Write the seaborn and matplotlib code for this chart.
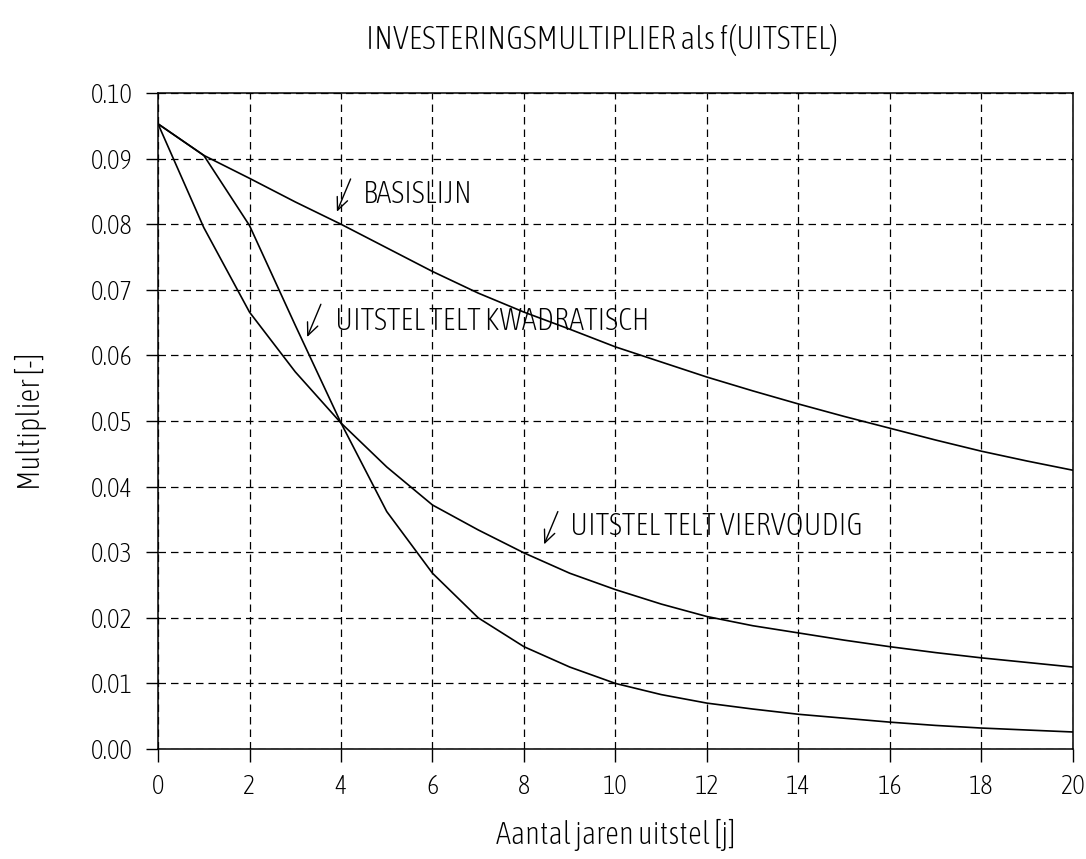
import numpy as np
import pandas as pd
import seaborn as sns
import matplotlib
matplotlib.use("Agg")
import matplotlib.pyplot as plt
from matplotlib import font_manager as fm

years = list(range(0, 21))
basislijn = [0.0953, 0.0905, 0.0870, 0.0834, 0.0800, 0.0764, 0.0728, 0.0695, 0.0666, 0.0640, 0.0613,
             0.0590, 0.0567, 0.0546, 0.0526, 0.0507, 0.0489, 0.0471, 0.0454, 0.0439, 0.0425]
kwadratisch = [0.0953, 0.0905, 0.0798, 0.0646, 0.0497, 0.0362, 0.0268, 0.0200, 0.0156, 0.0125, 0.0100,
               0.0083, 0.0070, 0.0061, 0.0053, 0.0047, 0.0041, 0.0036, 0.0032, 0.0029, 0.0026]
viervoudig = [0.0953, 0.0795, 0.0666, 0.0575, 0.0497, 0.0430, 0.0372, 0.0334, 0.0299, 0.0268, 0.0243,
              0.0221, 0.0202, 0.0188, 0.0177, 0.0166, 0.0156, 0.0147, 0.0139, 0.0132, 0.0125]

labels = ["BASISLIJN", "UITSTEL TELT KWADRATISCH", "UITSTEL TELT VIERVOUDIG"]
# arrow tip and text anchor, in data units
label_tips = [(3.91, 0.0819), (3.26, 0.0628), (8.44, 0.0312)]
label_text = [(4.48, 0.0845), (3.87, 0.0651), (9.0, 0.0340)]

x_ticks = list(range(0, 21, 2))
y_ticks = [0.00, 0.01, 0.02, 0.03, 0.04, 0.05, 0.06, 0.07, 0.08, 0.09, 0.10]


def pick_font():
    # the original uses a thin, narrow plotter font: look for something close
    best, best_score = None, -1
    for f in fm.fontManager.ttflist:
        n = (f.name + " " + str(f.stretch) + " " + f.fname).lower()
        score = 0
        if "narrow" in n or "condensed" in n:
            score += 10
        if "light" in n or str(f.weight) in ("300", "light", "200"):
            score += 3
        if "italic" in n or "oblique" in n or f.style != "normal" or "mono" in n or "serif" in f.name.lower():
            continue
        if "bold" in n or "black" in n or "semibold" in n or "medium" in n:
            continue
        if score > best_score:
            best, best_score = f, score
    return best


fnt = pick_font()
sns.set_style("white")
if fnt is not None:
    plt.rcParams['font.family'] = [fnt.name, 'DejaVu Sans']
    plt.rcParams['font.stretch'] = fnt.stretch
    plt.rcParams['font.weight'] = fnt.weight
    plt.rcParams['axes.labelweight'] = fnt.weight
    plt.rcParams['axes.titleweight'] = fnt.weight
    narrow = "narrow" in (fnt.name + fnt.fname).lower() or "condensed" in (fnt.name + fnt.fname + str(fnt.stretch)).lower()
else:
    plt.rcParams['font.family'] = ['DejaVu Sans']
    narrow = False
for k in ["text.color", "axes.labelcolor", "xtick.color", "ytick.color"]:
    plt.rcParams[k] = "black"

scale = 1.0 if narrow else 0.8

fig = plt.figure(figsize=(10.86, 8.59), dpi=100)
ax = fig.add_axes([0.1455, 0.128, 0.8425, 0.7637])

df = pd.DataFrame({"jaar": years, "basis": basislijn, "kwad": kwadratisch, "vier": viervoudig})
for col in ["basis", "kwad", "vier"]:
    sns.lineplot(data=df, x="jaar", y=col, ax=ax, color="black", linewidth=1.2)

ax.set_xlim(0, 20)
ax.set_ylim(0, 0.10)
ax.set_xticks(x_ticks)
ax.set_yticks(y_ticks)
ax.set_yticklabels([f"{v:.2f}" for v in y_ticks])
ax.tick_params(axis="both", direction="out", length=9, width=1, color="black",
               labelsize=19 * scale, pad=9, left=True, bottom=True)
ax.grid(True, color="black", linestyle=(0, (6, 4)), linewidth=0.9)
for s in ax.spines.values():
    s.set_color("black")
    s.set_linewidth(1.1)

ax.set_xlabel("Aantal jaren uitstel [j]", fontsize=22 * scale, labelpad=14)
ax.set_ylabel("Multiplier [-]", fontsize=22 * scale, labelpad=32)
fig.text(602 / 1086, 1 - 40 / 859, "INVESTERINGSMULTIPLIER als f(UITSTEL)",
         fontsize=23 * scale, ha="center", va="center")

for lab, tip, txt in zip(labels, label_tips, label_text):
    tail = (tip[0] + 0.3, tip[1] + 0.005)
    ax.annotate("", xy=tip, xytext=tail,
                arrowprops=dict(arrowstyle="->,head_length=0.9,head_width=0.4",
                                color="black", lw=1, shrinkA=0, shrinkB=0))
    ax.text(txt[0], txt[1], lab, fontsize=22 * scale, ha="left", va="center")

fig.savefig("out.png", dpi=100)
